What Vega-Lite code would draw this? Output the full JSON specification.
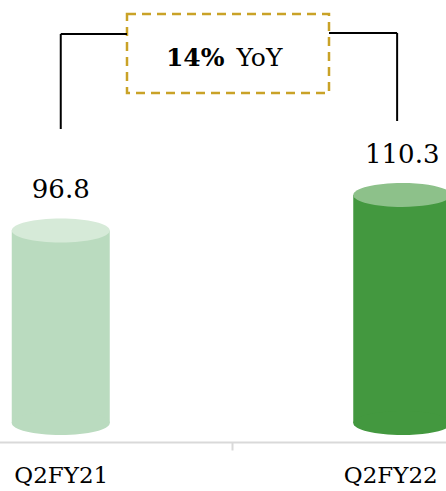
{
  "$schema": "https://vega.github.io/schema/vega-lite/v6.json",
  "autosize": "none",
  "padding": {"left": 0, "right": 0, "top": 0, "bottom": 49},
  "width": 446,
  "height": 442,
  "config": {"view": {"stroke": null}, "font": "DejaVu Serif"},
  "data": {"values": [
    {"quarter": "Q2FY21", "value": 96.8},
    {"quarter": "Q2FY22", "value": 110.3}
  ]},
  "encoding": {
    "x": {
      "field": "quarter", "type": "nominal",
      "scale": {"type": "band", "range": [-110, 573], "paddingInner": 0, "paddingOuter": 0},
      "axis": {
        "title": null, "labelAngle": 0, "tickBand": "extent",
        "domainColor": "#D9D9D9", "domainWidth": 2,
        "tickColor": "#D9D9D9", "tickWidth": 2, "tickSize": 8,
        "labelFont": "DejaVu Serif", "labelFontSize": 23, "labelColor": "#000000",
        "labelPadding": 14,
        "labelOffset": {"condition": {"test": "datum.value === 'Q2FY22'", "value": -12}, "value": 0}
      }
    }
  },
  "layer": [
    {
      "mark": {"type": "bar", "width": 98},
      "encoding": {
        "y": {"field": "value", "type": "quantitative", "scale": {"domain": [16.4, 184.4], "zero": false, "nice": false}, "axis": null},
        "y2": {"datum": 23.6},
        "fill": {"condition": {"test": "datum.quarter === 'Q2FY21'", "value": "#BADBBF"}, "value": "#43983F"}
      }
    },
    {
      "mark": {"type": "point", "filled": true, "opacity": 1, "size": 9604, "strokeWidth": 0,
        "shape": "M -1 0 A 1 0.245 0 1 1 1 0 A 1 0.245 0 1 1 -1 0 Z"},
      "encoding": {
        "y": {"datum": 23.6},
        "fill": {"condition": {"test": "datum.quarter === 'Q2FY21'", "value": "#BADBBF"}, "value": "#43983F"}
      }
    },
    {
      "mark": {"type": "point", "filled": true, "opacity": 1, "size": 9604, "strokeWidth": 0,
        "shape": "M -1 0 A 1 0.245 0 1 1 1 0 A 1 0.245 0 1 1 -1 0 Z"},
      "encoding": {
        "y": {"field": "value", "type": "quantitative"},
        "fill": {"condition": {"test": "datum.quarter === 'Q2FY21'", "value": "#D6EAD8"}, "value": "#8DC18A"}
      }
    },
    {
      "mark": {"type": "text", "fontSize": 26, "baseline": "alphabetic", "dy": -32, "color": "#000000", "font": "DejaVu Serif"},
      "encoding": {
        "y": {"field": "value", "type": "quantitative"},
        "text": {"field": "value", "type": "quantitative", "format": ".1f"}
      }
    },
    {
      "data": {"values": [{}]},
      "mark": {"type": "rect", "fill": null, "fillOpacity": 0, "stroke": "#C9A227", "strokeWidth": 2.5, "strokeDash": [9, 6]},
      "encoding": {
        "x": {"datum": "Q2FY21", "bandPosition": 0.694},
        "x2": {"datum": "Q2FY22", "bandPosition": 0.2855},
        "y": {"datum": 179.08},
        "y2": {"datum": 149.05}
      }
    },
    {
      "data": {"values": [{}]},
      "mark": {"type": "rule", "color": "#000000", "strokeWidth": 2},
      "encoding": {
        "x": {"datum": "Q2FY21", "bandPosition": 0.5},
        "y": {"datum": 171.48},
        "y2": {"datum": 135.37}
      }
    },
    {
      "data": {"values": [{}]},
      "mark": {"type": "rule", "color": "#000000", "strokeWidth": 2},
      "encoding": {
        "x": {"datum": "Q2FY21", "bandPosition": 0.5},
        "x2": {"datum": "Q2FY21", "bandPosition": 0.694},
        "y": {"datum": 171.48}
      }
    },
    {
      "data": {"values": [{}]},
      "mark": {"type": "rule", "color": "#000000", "strokeWidth": 2},
      "encoding": {
        "x": {"datum": "Q2FY22", "bandPosition": 0.485},
        "y": {"datum": 171.86},
        "y2": {"datum": 138.41}
      }
    },
    {
      "data": {"values": [{}]},
      "mark": {"type": "rule", "color": "#000000", "strokeWidth": 2},
      "encoding": {
        "x": {"datum": "Q2FY22", "bandPosition": 0.2855},
        "x2": {"datum": "Q2FY22", "bandPosition": 0.485},
        "y": {"datum": 171.86}
      }
    },
    {
      "data": {"values": [{"t": "14%"}]},
      "mark": {"type": "text", "fontSize": 25, "fontWeight": "bold", "align": "right", "baseline": "alphabetic", "dx": -7, "color": "#000000", "font": "DejaVu Serif"},
      "encoding": {
        "x": {"datum": "Q2FY21", "bandPosition": 1},
        "y": {"datum": 159.31},
        "text": {"field": "t"}
      }
    },
    {
      "data": {"values": [{"t": "YoY"}]},
      "mark": {"type": "text", "fontSize": 25, "align": "left", "baseline": "alphabetic", "dx": 5, "color": "#000000", "font": "DejaVu Serif"},
      "encoding": {
        "x": {"datum": "Q2FY21", "bandPosition": 1},
        "y": {"datum": 159.31},
        "text": {"field": "t"}
      }
    }
  ]
}
